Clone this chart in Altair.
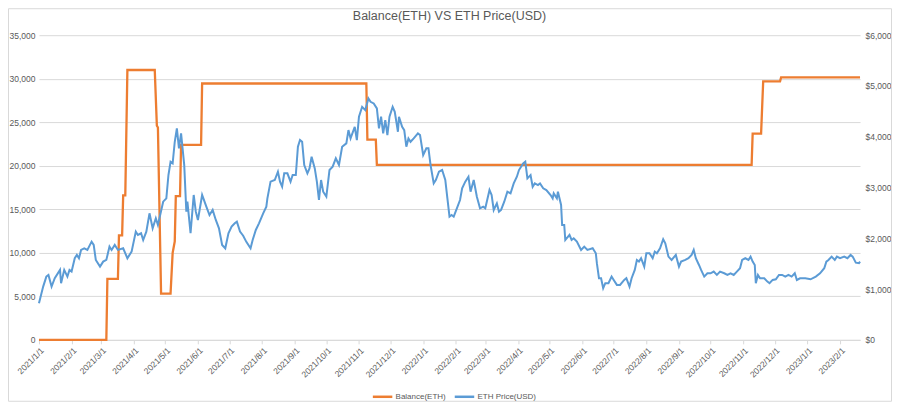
import altair as alt
import pandas as pd

TITLE = "Balance(ETH) VS ETH Price(USD)"
SERIES = ["Balance(ETH)", "ETH Price(USD)"]
COLORS = ["#ED7D31", "#5B9BD5"]

# x-axis tick labels (month starts) and visible range
tick_dates = ["2021-01-01", "2021-02-01", "2021-03-01", "2021-04-01", "2021-05-01", "2021-06-01",
              "2021-07-01", "2021-08-01", "2021-09-01", "2021-10-01", "2021-11-01", "2021-12-01",
              "2022-01-01", "2022-02-01", "2022-03-01", "2022-04-01", "2022-05-01", "2022-06-01",
              "2022-07-01", "2022-08-01", "2022-09-01", "2022-10-01", "2022-11-01", "2022-12-01",
              "2023-01-01", "2023-02-01"]
x_range = ["2021-01-01", "2023-02-20"]

left_ticks = [0, 5000, 10000, 15000, 20000, 25000, 30000, 35000]
right_ticks = [0, 1000, 2000, 3000, 4000, 5000, 6000]

# Balance(ETH) – step changes
balance_dates = ["2021-01-01", "2021-03-06", "2021-03-07", "2021-03-17", "2021-03-18", "2021-03-21",
                 "2021-03-22", "2021-03-24", "2021-03-26", "2021-04-21", "2021-04-23", "2021-04-24",
                 "2021-04-27", "2021-05-06", "2021-05-08", "2021-05-10", "2021-05-11", "2021-05-15",
                 "2021-05-16", "2021-06-04", "2021-06-05", "2021-11-08", "2021-11-09", "2021-11-17",
                 "2021-11-18", "2022-11-09", "2022-11-10", "2022-11-18", "2022-11-20", "2022-12-06",
                 "2022-12-07", "2023-02-20"]
balance_values = [0, 0, 7000, 7000, 12000, 12000,
                  16600, 16600, 31000, 31000, 24600, 24400,
                  5300, 5300, 10000, 11300, 16500, 16500,
                  22400, 22400, 29450, 29450, 23000, 23000,
                  20100, 20100, 23700, 23700, 29700, 29700,
                  30150, 30150]

# ETH Price(USD)
price_dates = [
    "2021-01-01", "2021-01-05", "2021-01-08", "2021-01-10", "2021-01-13", "2021-01-16", "2021-01-21",
    "2021-01-22", "2021-01-25", "2021-01-28", "2021-01-30", "2021-02-01", "2021-02-04", "2021-02-06",
    "2021-02-08", "2021-02-10", "2021-02-13", "2021-02-16", "2021-02-20", "2021-02-22", "2021-02-24",
    "2021-02-28", "2021-03-03", "2021-03-06", "2021-03-09", "2021-03-11", "2021-03-14", "2021-03-17",
    "2021-03-22", "2021-03-26", "2021-03-30", "2021-04-03", "2021-04-05", "2021-04-08", "2021-04-10",
    "2021-04-13", "2021-04-16", "2021-04-19", "2021-04-22", "2021-04-24", "2021-04-29", "2021-05-02",
    "2021-05-04", "2021-05-06", "2021-05-08", "2021-05-10", "2021-05-12", "2021-05-14", "2021-05-16",
    "2021-05-19", "2021-05-21", "2021-05-22", "2021-05-25", "2021-05-28", "2021-05-30", "2021-06-01",
    "2021-06-05", "2021-06-09", "2021-06-12", "2021-06-15", "2021-06-18", "2021-06-21", "2021-06-24",
    "2021-06-27", "2021-06-30", "2021-07-03", "2021-07-06", "2021-07-08", "2021-07-11", "2021-07-14",
    "2021-07-17", "2021-07-21", "2021-07-23", "2021-07-26", "2021-07-29", "2021-08-02", "2021-08-05",
    "2021-08-06", "2021-08-09", "2021-08-13", "2021-08-16", "2021-08-18", "2021-08-20", "2021-08-22",
    "2021-08-25", "2021-08-28", "2021-08-30", "2021-09-02", "2021-09-04", "2021-09-06", "2021-09-08",
    "2021-09-10", "2021-09-13", "2021-09-15", "2021-09-17", "2021-09-20", "2021-09-22", "2021-09-24",
    "2021-09-26", "2021-09-28", "2021-10-01", "2021-10-04", "2021-10-07", "2021-10-10", "2021-10-13",
    "2021-10-16", "2021-10-20", "2021-10-22", "2021-10-24", "2021-10-28", "2021-10-30", "2021-11-01",
    "2021-11-04", "2021-11-07", "2021-11-10", "2021-11-12", "2021-11-15", "2021-11-18", "2021-11-20",
    "2021-11-22", "2021-11-24", "2021-11-26", "2021-11-28", "2021-11-30", "2021-12-03", "2021-12-05",
    "2021-12-08", "2021-12-09", "2021-12-12", "2021-12-14", "2021-12-16", "2021-12-18", "2021-12-20",
    "2021-12-23", "2021-12-27", "2021-12-29", "2022-01-01", "2022-01-04", "2022-01-06", "2022-01-08",
    "2022-01-11", "2022-01-13", "2022-01-16", "2022-01-19", "2022-01-22", "2022-01-24", "2022-01-26",
    "2022-01-28", "2022-01-30", "2022-02-02", "2022-02-05", "2022-02-07", "2022-02-10", "2022-02-13",
    "2022-02-15", "2022-02-18", "2022-02-21", "2022-02-24", "2022-02-27", "2022-03-01", "2022-03-05",
    "2022-03-07", "2022-03-09", "2022-03-12", "2022-03-14", "2022-03-16", "2022-03-19", "2022-03-22",
    "2022-03-25", "2022-03-28", "2022-03-31", "2022-04-02", "2022-04-04", "2022-04-06", "2022-04-08",
    "2022-04-10", "2022-04-13", "2022-04-15", "2022-04-17", "2022-04-20", "2022-04-22", "2022-04-25",
    "2022-04-28", "2022-05-02", "2022-05-04", "2022-05-05", "2022-05-08", "2022-05-09", "2022-05-12",
    "2022-05-13", "2022-05-15", "2022-05-16", "2022-05-20", "2022-05-22", "2022-05-24", "2022-05-27",
    "2022-05-31", "2022-06-03", "2022-06-06", "2022-06-11", "2022-06-14", "2022-06-15", "2022-06-17",
    "2022-06-19", "2022-06-21", "2022-06-23", "2022-06-26", "2022-06-29", "2022-07-01", "2022-07-04",
    "2022-07-07", "2022-07-11", "2022-07-13", "2022-07-16", "2022-07-18", "2022-07-21", "2022-07-23",
    "2022-07-25", "2022-07-27", "2022-07-30", "2022-08-01", "2022-08-04", "2022-08-07", "2022-08-09",
    "2022-08-11", "2022-08-14", "2022-08-17", "2022-08-19", "2022-08-22", "2022-08-25", "2022-08-29",
    "2022-09-01", "2022-09-03", "2022-09-07", "2022-09-10", "2022-09-13", "2022-09-15", "2022-09-17",
    "2022-09-20", "2022-09-22", "2022-09-25", "2022-09-28", "2022-10-01", "2022-10-04", "2022-10-07",
    "2022-10-10", "2022-10-14", "2022-10-17", "2022-10-20", "2022-10-23", "2022-10-26", "2022-10-29",
    "2022-10-31", "2022-11-03", "2022-11-06", "2022-11-08", "2022-11-10", "2022-11-12", "2022-11-13",
    "2022-11-15", "2022-11-17", "2022-11-21", "2022-11-24", "2022-11-26", "2022-11-29", "2022-12-02",
    "2022-12-05", "2022-12-08", "2022-12-11", "2022-12-14", "2022-12-17", "2022-12-20", "2022-12-22",
    "2022-12-25", "2022-12-30", "2023-01-04", "2023-01-09", "2023-01-13", "2023-01-17", "2023-01-19",
    "2023-01-21", "2023-01-24", "2023-01-27", "2023-01-29", "2023-02-01", "2023-02-05", "2023-02-08",
    "2023-02-11", "2023-02-13", "2023-02-16", "2023-02-19", "2023-02-20"]
price_values = [
    722, 1049, 1246, 1279, 1049, 1213, 1377,
    1115, 1377, 1246, 1377, 1344, 1607, 1672,
    1607, 1771, 1803, 1771, 1934, 1869, 1574,
    1442, 1541, 1574, 1836, 1771, 1869, 1771,
    1803, 1607, 1738, 2131, 2066, 2099, 1967,
    2131, 2492, 2197, 2394, 2262, 2721, 2787,
    3246, 3508, 3475, 3901, 4164, 3771, 4066,
    3443, 2525, 2721, 2099, 2853, 2525, 2361,
    2853, 2623, 2459, 2558, 2361, 2197, 1869,
    1803, 2099, 2230, 2295, 2328, 2131, 2050,
    1930, 1803, 1967, 2164, 2295, 2492, 2623,
    2787, 3115, 3148, 3311, 3115, 3016, 3279,
    3279, 3115, 3246, 3246, 3803, 3935, 3901,
    3443, 3279, 3377, 3606, 3377, 3115, 2754,
    3148, 2918, 2820, 3344, 3410, 3574, 3443,
    3803, 3869, 4131, 3967, 4196, 3935, 4394,
    4590, 4525, 4755, 4689, 4656, 4558, 4164,
    4394, 4066, 4328, 4033, 4394, 4590, 4492,
    4098, 4394, 4196, 4131, 3803, 3967, 3901,
    3967, 4066, 4033, 3639, 3771, 3771, 3443,
    3082, 3148, 3311, 3344, 3148, 2787, 2426,
    2459, 2426, 2590, 2754, 2984, 3115, 3213,
    2918, 3148, 2820, 2590, 2623, 2590, 2951,
    2853, 2558, 2689, 2525, 2558, 2721, 2918,
    2885, 3082, 3213, 3344, 3410, 3475, 3508,
    3180, 3246, 3016, 3082, 3049, 3082, 2984,
    2951, 2853, 2787, 2885, 2787, 2918, 2656,
    2262, 2262, 1967, 2066, 1967, 2000, 1934,
    1771, 1836, 1771, 1803, 1706, 1509, 1213,
    1213, 1017, 1115, 1115, 1246, 1180, 1082,
    1082, 1180, 1213, 1049, 1213, 1377, 1574,
    1541, 1607, 1442, 1706, 1706, 1607, 1738,
    1706, 1803, 1981, 1902, 1639, 1574, 1672,
    1442, 1541, 1574, 1607, 1672, 1771, 1607,
    1475, 1377, 1246, 1311, 1311, 1344, 1279,
    1344, 1311, 1279, 1311, 1279, 1344, 1410,
    1574, 1607, 1574, 1639, 1541, 1475, 1115,
    1279, 1213, 1213, 1147, 1115, 1180, 1193,
    1279, 1279, 1246, 1279, 1246, 1311, 1180,
    1213, 1213, 1193, 1246, 1311, 1410, 1541,
    1574, 1639, 1574, 1639, 1607, 1639, 1607,
    1672, 1639, 1521, 1509, 1541]

FONT = "Liberation Sans"
GRID = "#d9d9d9"
TEXT = "#595959"

W, H = 822, 305
PAD = {"left": 31, "top": 27, "right": 32, "bottom": 62}

bal_df = pd.DataFrame({"date": balance_dates, "value": balance_values, "series": SERIES[0]})
price_df = pd.DataFrame({"date": price_dates, "value": price_values, "series": SERIES[1]})

to_ms = lambda d: int(pd.Timestamp(d, tz="UTC").timestamp() * 1000)
tick_ms = [to_ms(d) for d in tick_dates]
domain_ms = [to_ms(d) for d in x_range]

x_enc = alt.X(
    "date:T",
    scale=alt.Scale(type="utc", domain=domain_ms, nice=False),
    axis=alt.Axis(
        values=tick_ms, format="%Y/%-m/%-d", title=None, labelAngle=-45,
        grid=False, domain=True, domainColor=GRID, ticks=True, tickColor=GRID,
        tickSize=4, labelFontSize=8.5, labelColor=TEXT, labelFont=FONT,
        labelPadding=2, labelOverlap=False, labelBound=False, labelFlush=False,
    ),
)

color_enc = alt.Color(
    "series:N",
    scale=alt.Scale(domain=SERIES, range=COLORS),
    legend=alt.Legend(
        title=None, orient="none", direction="horizontal",
        legendX=333, legendY=351,
        symbolType="stroke", symbolStrokeWidth=2.5, symbolSize=380,
        labelFontSize=8, labelColor=TEXT, labelFont=FONT, labelOffset=2,
        columnPadding=3,
    ),
)

bal_line = alt.Chart(bal_df).mark_line(strokeWidth=2.3, interpolate="linear").encode(
    x=x_enc,
    y=alt.Y(
        "value:Q",
        scale=alt.Scale(domain=[0, 35000], nice=False),
        axis=alt.Axis(
            values=left_ticks, format=",d", title=None, orient="left",
            grid=True, gridColor=GRID, gridWidth=1, domain=False, ticks=False,
            labelFontSize=8.5, labelColor=TEXT, labelFont=FONT, labelPadding=4,
        ),
    ),
    color=color_enc,
)

price_line = alt.Chart(price_df).mark_line(strokeWidth=2, interpolate="linear").encode(
    x=x_enc,
    y=alt.Y(
        "value:Q",
        scale=alt.Scale(domain=[0, 6000], nice=False),
        axis=alt.Axis(
            values=right_ticks, format="$,.0f", title=None, orient="right",
            grid=False, domain=False, ticks=False,
            labelFontSize=8.5, labelColor=TEXT, labelFont=FONT, labelPadding=5,
        ),
    ),
    color=color_enc,
)

border = alt.Chart(pd.DataFrame({"a": [0]})).mark_rect(
    filled=False, stroke=GRID, strokeWidth=1
).encode(
    x=alt.value(-PAD["left"] + 0.5),
    x2=alt.value(W + PAD["right"] - 0.5),
    y=alt.value(-PAD["top"] + 0.5),
    y2=alt.value(H + PAD["bottom"] - 0.5),
)

chart = (
    alt.layer(border, bal_line, price_line)
    .resolve_scale(y="independent")
    .properties(
        width=W, height=H,
        padding=PAD,
        autosize=alt.AutoSizeParams(type="none"),
        background="white",
        title=alt.TitleParams(
            TITLE, fontSize=12.5, color=TEXT, font=FONT, fontWeight="normal",
            anchor="middle", offset=-14,
        ),
    )
    .configure_view(stroke=None)
)

chart.save("out.html", embed_options={"renderer": "svg", "actions": False})
